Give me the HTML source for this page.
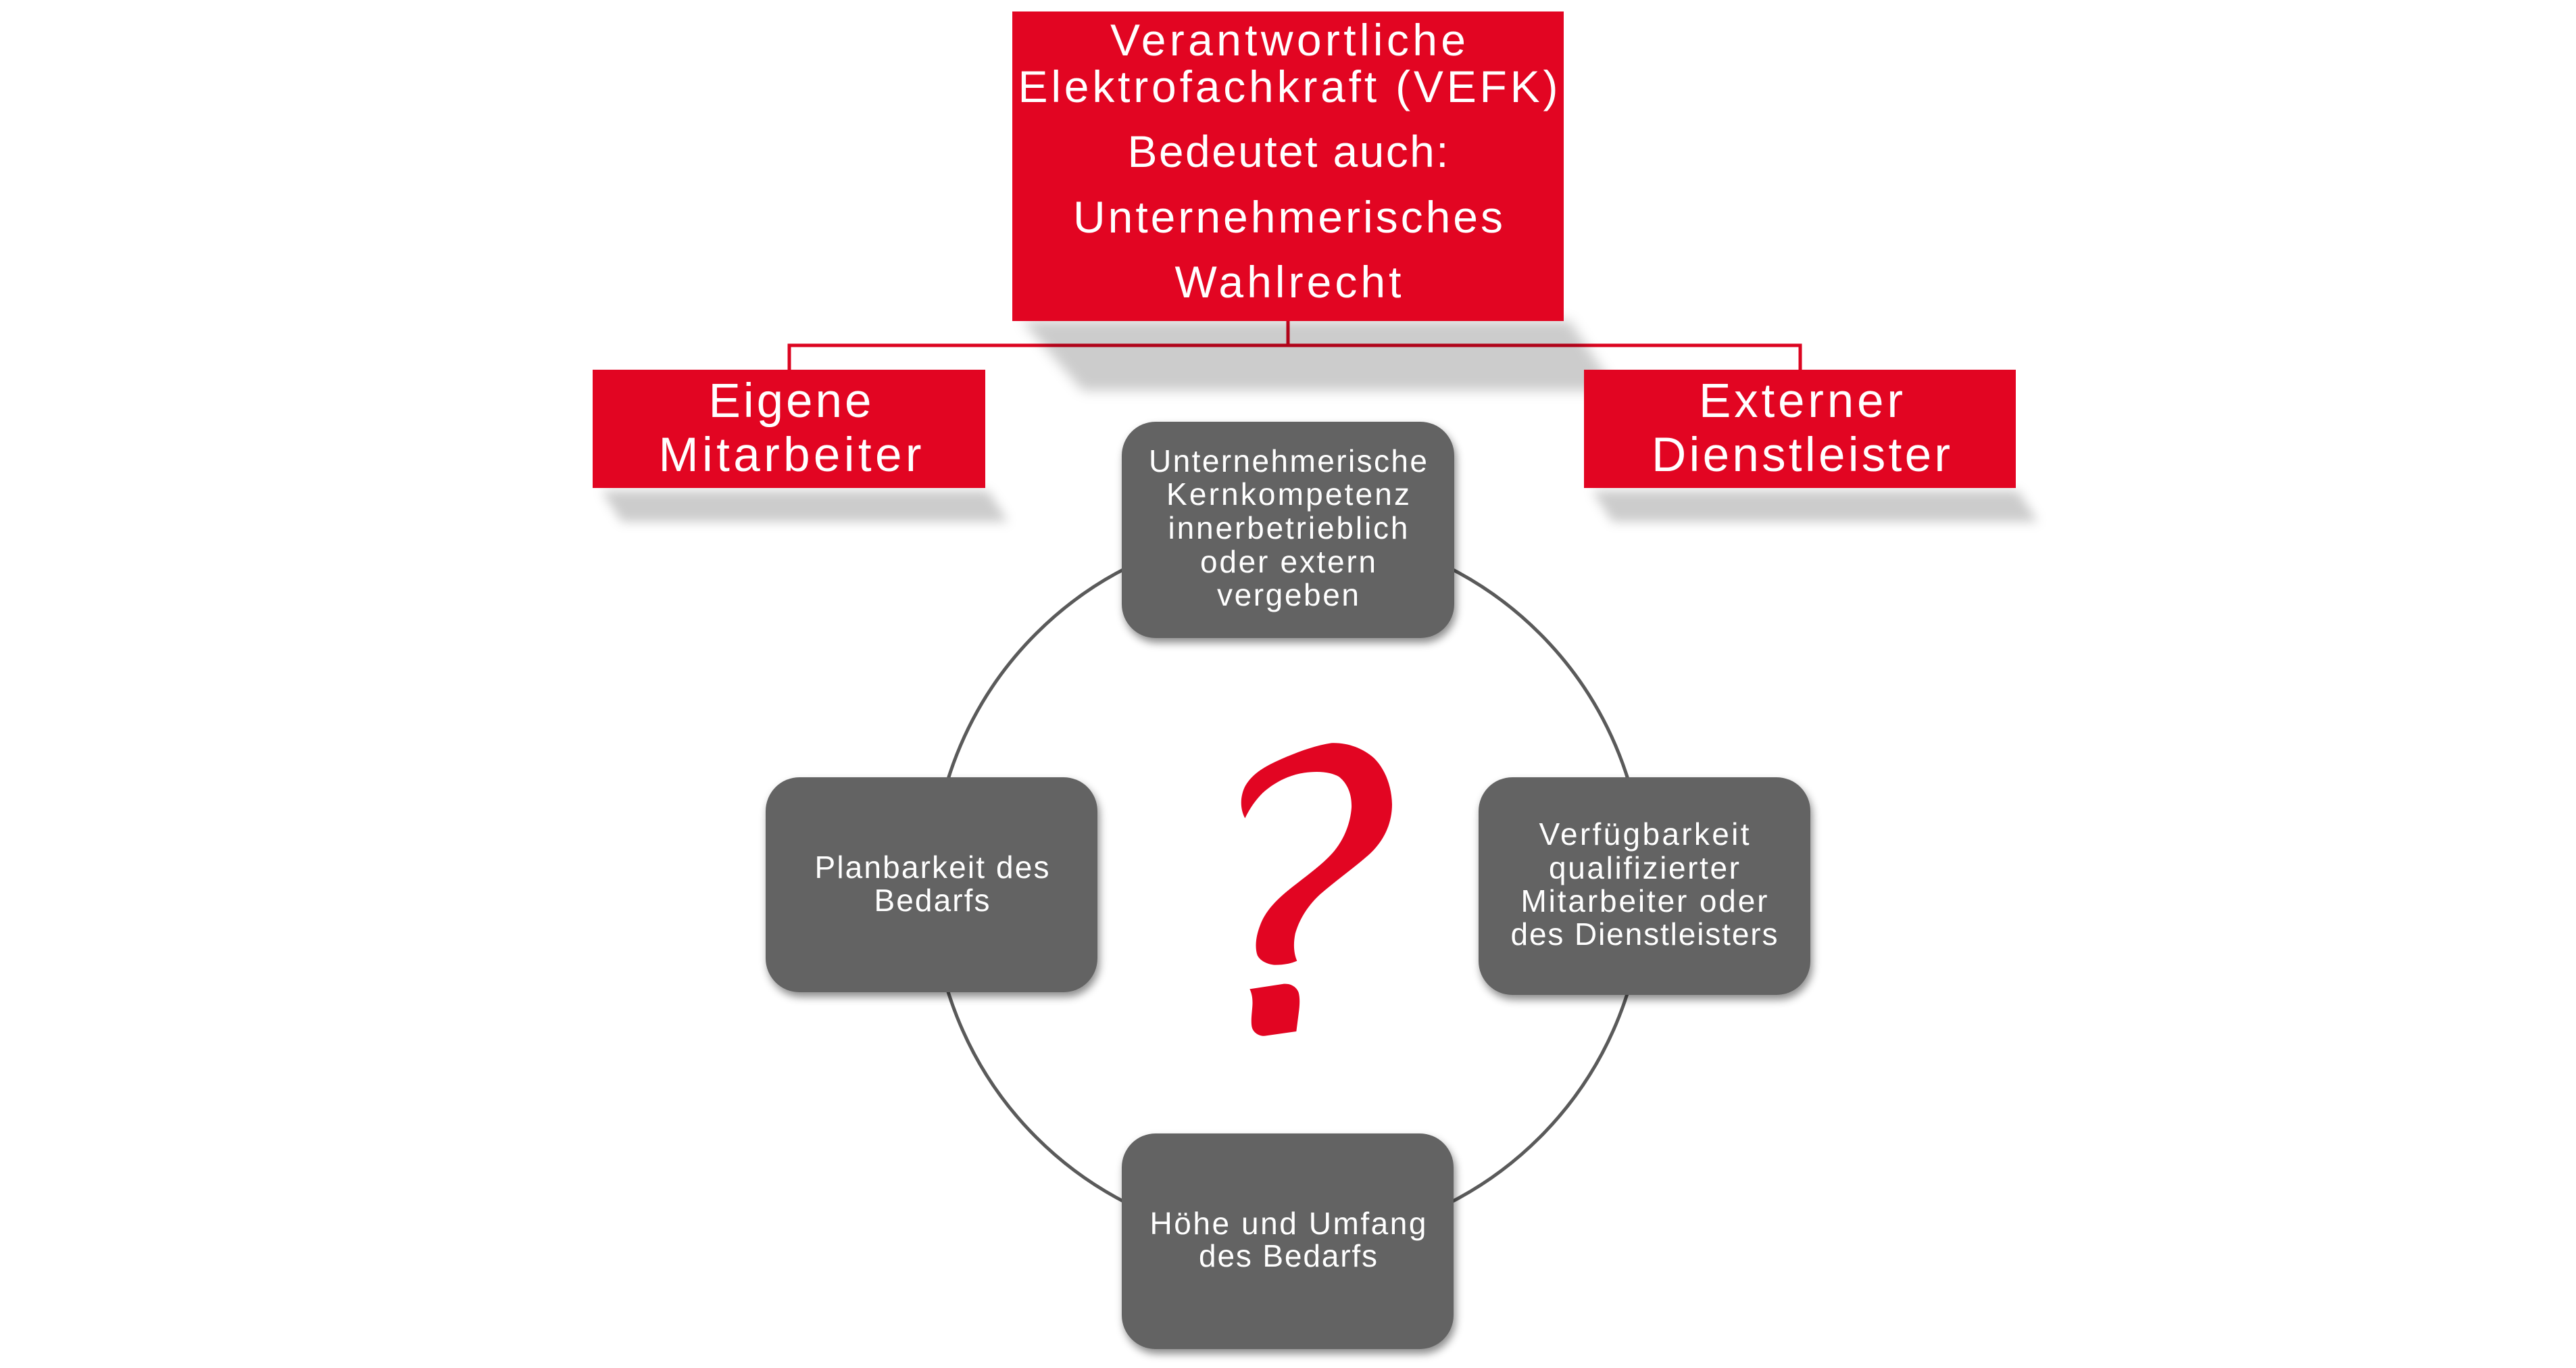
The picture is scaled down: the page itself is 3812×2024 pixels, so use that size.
<!DOCTYPE html>
<html>
<head>
<meta charset="utf-8">
<style>
  html,body{margin:0;padding:0;background:#ffffff;}
  body{width:3812px;height:2024px;overflow:hidden;}
  svg{display:block;}
  text{font-family:"Liberation Sans", Arial, sans-serif;fill:#ffffff;}
</style>
</head>
<body>
<svg width="3812" height="2024" viewBox="0 0 3812 2024" xmlns="http://www.w3.org/2000/svg">
  <defs>
    <filter id="blurBig" x="-20%" y="-50%" width="140%" height="200%">
      <feGaussianBlur stdDeviation="9"/>
    </filter>
    <filter id="blurSide" x="-20%" y="-100%" width="140%" height="300%">
      <feGaussianBlur stdDeviation="8"/>
    </filter>
    <filter id="nodeShadow" x="-10%" y="-10%" width="125%" height="130%">
      <feDropShadow dx="3" dy="7" stdDeviation="6" flood-color="#000000" flood-opacity="0.45"/>
    </filter>
  </defs>

  <rect x="0" y="0" width="3812" height="2024" fill="#ffffff"/>

  <!-- circle -->
  <circle cx="1906" cy="1310" r="527" fill="none" stroke="#5a5a5a" stroke-width="5"/>

  <!-- connectors -->
  <path d="M1906 470 V511" fill="none" stroke="#dc0420" stroke-width="5"/>
  <path d="M1168 550 V511 H2664 V550" fill="none" stroke="#dc0420" stroke-width="5" stroke-linejoin="miter"/>

  <!-- top box shadow -->
  <polygon points="1512,474 2322,474 2392,578 1602,578" fill="#000000" fill-opacity="0.2" filter="url(#blurBig)"/>

  <!-- top box -->
  <rect x="1498" y="17" width="816" height="458" fill="#e20522"/>
  <text x="1906" y="82" font-size="66" text-anchor="middle" textLength="526" lengthAdjust="spacing">Verantwortliche</text>
  <text x="1906" y="151" font-size="66" text-anchor="middle" textLength="799" lengthAdjust="spacing">Elektrofachkraft (VEFK)</text>
  <text x="1906" y="247" font-size="66" text-anchor="middle" textLength="475" lengthAdjust="spacing">Bedeutet auch:</text>
  <text x="1906" y="344" font-size="66" text-anchor="middle" textLength="636" lengthAdjust="spacing">Unternehmerisches</text>
  <text x="1906" y="440" font-size="66" text-anchor="middle" textLength="335" lengthAdjust="spacing">Wahlrecht</text>

  <!-- side box shadows -->
  <polygon points="890,726 1462,726 1492,772 920,772" fill="#000000" fill-opacity="0.2" filter="url(#blurSide)"/>
  <polygon points="2356,726 2986,726 3016,772 2386,772" fill="#000000" fill-opacity="0.2" filter="url(#blurSide)"/>

  <!-- side boxes -->
  <rect x="877" y="547" width="581" height="175" fill="#e20522"/>
  <text x="1169" y="617" font-size="71" text-anchor="middle" textLength="241" lengthAdjust="spacing">Eigene</text>
  <text x="1169" y="697" font-size="71" text-anchor="middle" textLength="389" lengthAdjust="spacing">Mitarbeiter</text>

  <rect x="2344" y="547" width="639" height="175" fill="#e20522"/>
  <text x="2665" y="617" font-size="71" text-anchor="middle" textLength="302" lengthAdjust="spacing">Externer</text>
  <text x="2665" y="697" font-size="71" text-anchor="middle" textLength="442" lengthAdjust="spacing">Dienstleister</text>

  <!-- nodes -->
  <g filter="url(#nodeShadow)">
    <rect x="1660" y="624" width="492" height="320" rx="50" ry="50" fill="#636363"/>
    <rect x="1133" y="1150" width="491" height="318" rx="50" ry="50" fill="#636363"/>
    <rect x="2188" y="1150" width="491" height="322" rx="50" ry="50" fill="#636363"/>
    <rect x="1660" y="1677" width="491" height="319" rx="50" ry="50" fill="#636363"/>
  </g>

  <!-- top node text -->
  <text x="1906" y="698" font-size="46" text-anchor="middle" textLength="412" lengthAdjust="spacing">Unternehmerische</text>
  <text x="1906" y="747" font-size="46" text-anchor="middle" textLength="360" lengthAdjust="spacing">Kernkompetenz</text>
  <text x="1906" y="797" font-size="46" text-anchor="middle" textLength="355" lengthAdjust="spacing">innerbetrieblich</text>
  <text x="1906" y="847" font-size="46" text-anchor="middle" textLength="260" lengthAdjust="spacing">oder extern</text>
  <text x="1906" y="896" font-size="46" text-anchor="middle" textLength="210" lengthAdjust="spacing">vergeben</text>

  <!-- left node text -->
  <text x="1379" y="1299" font-size="46" text-anchor="middle" textLength="347" lengthAdjust="spacing">Planbarkeit des</text>
  <text x="1379" y="1348" font-size="46" text-anchor="middle" textLength="171" lengthAdjust="spacing">Bedarfs</text>

  <!-- right node text -->
  <text x="2433" y="1250" font-size="46" text-anchor="middle" textLength="311" lengthAdjust="spacing">Verfügbarkeit</text>
  <text x="2433" y="1300" font-size="46" text-anchor="middle" textLength="282" lengthAdjust="spacing">qualifizierter</text>
  <text x="2433" y="1349" font-size="46" text-anchor="middle" textLength="365" lengthAdjust="spacing">Mitarbeiter oder</text>
  <text x="2433" y="1398" font-size="46" text-anchor="middle" textLength="395" lengthAdjust="spacing">des Dienstleisters</text>

  <!-- bottom node text -->
  <text x="1906" y="1826" font-size="46" text-anchor="middle" textLength="409" lengthAdjust="spacing">Höhe und Umfang</text>
  <text x="1906" y="1874" font-size="46" text-anchor="middle" textLength="264" lengthAdjust="spacing">des Bedarfs</text>

  <!-- question mark -->
  <g transform="translate(1700,1080) scale(0.33333)" fill="#e20522">
    <path d="M427,392 C405,350 405,300 425,255 C450,205 500,170 560,142 C640,105 730,70 810,58 C880,55 950,80 1000,125 C1050,175 1078,250 1080,330 C1080,420 1040,500 970,560 C900,620 830,670 760,730 C700,785 665,850 650,905 C640,955 645,995 658,1025 C630,1038 595,1043 560,1043 C525,1040 495,1025 482,1000 C470,965 475,915 495,865 C520,800 570,750 640,695 C710,640 780,590 825,535 C870,480 895,410 900,345 C902,290 885,240 845,208 C805,185 750,182 690,190 C620,200 555,235 505,280 C475,310 450,345 427,392 Z"/>
    <path d="M448,1150 L600,1127 C630,1125 655,1140 665,1165 C672,1190 670,1225 665,1260 L655,1338 L515,1358 C490,1360 465,1345 458,1320 C452,1295 458,1255 460,1225 C462,1195 458,1170 448,1150 Z"/>
  </g>
</svg>
</body>
</html>
